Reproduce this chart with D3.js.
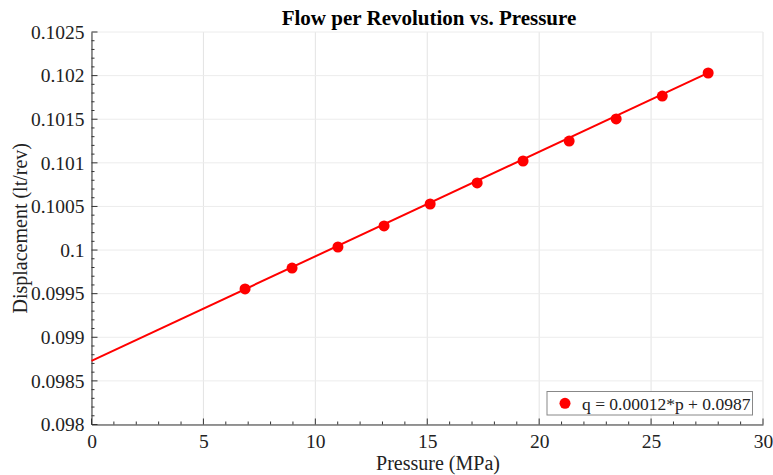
<!DOCTYPE html>
<html>
<head>
<meta charset="utf-8">
<script src="https://cdn.jsdelivr.net/npm/d3@7"></script>
<style>
  body { margin: 0; background: #fff; }
  text { font-family: "Liberation Serif", "Times New Roman", serif; }
</style>
</head>
<body>
<svg width="773" height="475"></svg>
<script>
// measured points
var pressure = [6.86, 8.96, 11.01, 13.07, 15.13, 17.23, 19.28, 21.34, 23.44, 25.5, 27.55]
var displacement = [0.099554, 0.099794, 0.100035, 0.100276, 0.100528, 0.100769, 0.101021, 0.10125, 0.101503, 0.101766, 0.10203]

// fitted line q = slope*p + intercept
var fitSlope = 0.0001198
var fitIntercept = 0.09873
var fitRange = [0, 27.55]

var xTicks = [0, 5, 10, 15, 20, 25, 30]
var yTicks = [0.098, 0.0985, 0.099, 0.0995, 0.1, 0.1005, 0.101, 0.1015, 0.102, 0.1025]
var legendText = 'q = 0.00012*p + 0.0987'

var plotLeft = 91.5, plotRight = 763, plotTop = 32, plotBottom = 424.5

var svg = d3.select('svg')

var mapX = d3.scaleLinear().domain([0, 30]).range([plotLeft, plotRight])
var mapY = d3.scaleLinear().domain([0.098, 0.1025]).range([plotBottom, plotTop])

// grid
svg.append('g')
    .selectAll('line')
    .data(xTicks)
    .enter()
    .append('line')
    .attr('x1', function(d){ return mapX(d) })
    .attr('x2', function(d){ return mapX(d) })
    .attr('y1', plotTop)
    .attr('y2', plotBottom)
    .attr('stroke', '#e3e3e3')
    .attr('stroke-width', 1)

svg.append('g')
    .selectAll('line')
    .data(yTicks)
    .enter()
    .append('line')
    .attr('x1', plotLeft)
    .attr('x2', plotRight)
    .attr('y1', function(d){ return mapY(d) })
    .attr('y2', function(d){ return mapY(d) })
    .attr('stroke', '#ececec')
    .attr('stroke-width', 1)

// minor ticks
var minorX = d3.range(0, 31, 1)
var minorY = d3.range(0, 46, 1).map(function(i){ return 0.098 + i * 0.0001 })

var axisColor = '#333'

svg.append('g')
    .selectAll('line')
    .data(minorX)
    .enter()
    .append('line')
    .attr('x1', function(d){ return mapX(d) })
    .attr('x2', function(d){ return mapX(d) })
    .attr('y1', plotBottom)
    .attr('y2', function(d){ return d % 5 === 0 ? plotBottom - 6 : plotBottom - 3 })
    .attr('stroke', axisColor)

svg.append('g')
    .selectAll('line')
    .data(minorY)
    .enter()
    .append('line')
    .attr('y1', function(d){ return mapY(d) })
    .attr('y2', function(d){ return mapY(d) })
    .attr('x1', plotLeft)
    .attr('x2', function(d, i){ return i % 5 === 0 ? plotLeft + 6 : plotLeft + 3 })
    .attr('stroke', axisColor)

// axes
var axisX = d3.axisBottom(mapX).tickValues(xTicks).tickSize(0).tickPadding(10)
var gx = svg.append('g')
    .attr('transform', 'translate(0,' + plotBottom + ')')
    .call(axisX)
gx.select('.domain').attr('stroke', axisColor)
gx.selectAll('text').style('font-size', '19.5px').attr('fill', '#222')

var axisY = d3.axisLeft(mapY).tickValues(yTicks).tickSize(0).tickPadding(7)
    .tickFormat(function(d){ return String(+d.toFixed(4)) })
var gy = svg.append('g')
    .attr('transform', 'translate(' + plotLeft + ',0)')
    .call(axisY)
gy.select('.domain').attr('stroke', axisColor)
gy.selectAll('text').style('font-size', '19.5px').attr('fill', '#222')

// fit line
svg.append('line')
    .attr('x1', mapX(fitRange[0]))
    .attr('y1', mapY(fitSlope * fitRange[0] + fitIntercept))
    .attr('x2', mapX(fitRange[1]))
    .attr('y2', mapY(fitSlope * fitRange[1] + fitIntercept))
    .attr('stroke', '#ff0000')
    .attr('stroke-width', 2)

// points
svg.append('g')
    .selectAll('circle')
    .data(pressure)
    .enter()
    .append('circle')
    .attr('cx', function(d){ return mapX(d) })
    .attr('cy', function(d, i){ return mapY(displacement[i]) })
    .attr('r', 5.5)
    .attr('fill', '#ff0000')

// titles
svg.append('text')
    .attr('x', 429)
    .attr('y', 25)
    .attr('text-anchor', 'middle')
    .style('font-size', '21px')
    .style('font-weight', 'bold')
    .text('Flow per Revolution vs. Pressure')

svg.append('text')
    .attr('x', 438)
    .attr('y', 470)
    .attr('text-anchor', 'middle')
    .style('font-size', '20px')
    .attr('fill', '#222')
    .text('Pressure (MPa)')

svg.append('text')
    .attr('transform', 'translate(27,' + (plotTop + plotBottom) / 2 + ') rotate(-90)')
    .attr('text-anchor', 'middle')
    .style('font-size', '20px')
    .attr('fill', '#222')
    .text('Displacement (lt/rev)')

// legend
var lg = svg.append('g')
lg.append('rect')
    .attr('x', 547)
    .attr('y', 391.5)
    .attr('width', 205.5)
    .attr('height', 23.5)
    .attr('fill', '#fff')
    .attr('stroke', '#888')
lg.append('circle')
    .attr('cx', 565)
    .attr('cy', 403.3)
    .attr('r', 5.5)
    .attr('fill', '#ff0000')
lg.append('text')
    .attr('x', 582)
    .attr('y', 409.5)
    .style('font-size', '17.5px')
    .attr('fill', '#222')
    .text(legendText)
</script>
</body>
</html>
